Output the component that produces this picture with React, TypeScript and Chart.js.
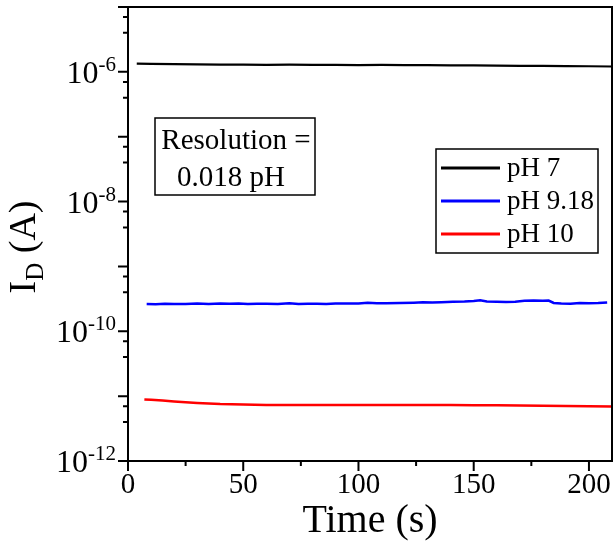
import React, { useEffect, useRef } from "react";
import { Chart, registerables } from "chart.js";

Chart.register(...registerables);

const FONT = "'Liberation Serif', 'Times New Roman', serif";

// pH 7 (black)
const timePH7 = [3.8, 10, 20, 30, 40, 50, 60, 70, 80, 90, 100, 110, 120, 130, 140, 150, 160, 170, 180, 190, 200, 210];
const currentPH7 = [1.34e-6, 1.33e-6, 1.32e-6, 1.3e-6, 1.29e-6, 1.29e-6, 1.28e-6, 1.29e-6, 1.28e-6, 1.28e-6, 1.27e-6, 1.28e-6, 1.27e-6, 1.27e-6, 1.26e-6, 1.26e-6, 1.25e-6, 1.24e-6, 1.24e-6, 1.23e-6, 1.22e-6, 1.21e-6];

// pH 9.18 (blue)
const timePH918 = [8.1, 12, 16, 20, 25, 30, 35, 40, 44, 48, 52, 56, 60, 65, 70, 74, 78, 82, 86, 90, 95, 100, 104, 108, 112, 118, 124, 128, 132, 136, 141, 146, 150, 152.8, 155.7, 160, 164, 168, 172, 176, 180, 182.5, 184.7, 188, 192, 196, 200, 204, 207.9];
const currentPH918 = [2.64e-10, 2.62e-10, 2.65e-10, 2.63e-10, 2.64e-10, 2.67e-10, 2.64e-10, 2.67e-10, 2.65e-10, 2.68e-10, 2.64e-10, 2.66e-10, 2.65e-10, 2.64e-10, 2.7e-10, 2.63e-10, 2.65e-10, 2.66e-10, 2.64e-10, 2.67e-10, 2.68e-10, 2.69e-10, 2.76e-10, 2.71e-10, 2.7e-10, 2.73e-10, 2.76e-10, 2.8e-10, 2.77e-10, 2.81e-10, 2.85e-10, 2.88e-10, 2.93e-10, 3.0e-10, 2.87e-10, 2.86e-10, 2.83e-10, 2.85e-10, 2.95e-10, 2.97e-10, 2.96e-10, 2.98e-10, 2.73e-10, 2.68e-10, 2.66e-10, 2.72e-10, 2.7e-10, 2.73e-10, 2.78e-10];

// pH 10 (red)
const timePH10 = [7.1, 10, 15, 20, 25, 30, 35, 40, 50, 60, 70, 80, 90, 100, 110, 120, 130, 140, 150, 160, 170, 180, 190, 200, 210];
const currentPH10 = [8.9e-12, 8.8e-12, 8.55e-12, 8.3e-12, 8.05e-12, 7.85e-12, 7.7e-12, 7.55e-12, 7.4e-12, 7.32e-12, 7.3e-12, 7.27e-12, 7.28e-12, 7.3e-12, 7.28e-12, 7.3e-12, 7.28e-12, 7.27e-12, 7.25e-12, 7.22e-12, 7.18e-12, 7.1e-12, 7.05e-12, 7.0e-12, 6.95e-12];

const seriesLabels = ["pH 7", "pH 9.18", "pH 10"];
const seriesColors = ["#000000", "#0000ff", "#ff0000"];

const xTickValues = [0, 50, 100, 150, 200];
const xMinorTicks = [25, 75, 125, 175];
const yMajorTicks = [1e-12, 1e-11, 1e-10, 1e-9, 1e-8, 1e-7, 1e-6, 1e-5];
const yMinorTicks = [4e-12, 7e-12, 4e-11, 7e-11, 4e-10, 7e-10, 4e-9, 7e-9, 4e-8, 7e-8, 4e-7, 7e-7, 4e-6, 7e-6];
const yLabelExponents = [-12, -10, -8, -6];

const xAxisTitle = "Time (s)";
const yAxisTitleMain = "I";
const yAxisTitleSub = "D";
const yAxisTitleUnit = " (A)";
const annotationLines = ["Resolution =", "0.018 pH"];

const toPoints = (xs: number[], ys: number[]) => xs.map((x, i) => ({ x, y: ys[i] }));

const decorPlugin = {
  id: "decor",
  afterDraw(chart: any) {
    const { ctx, chartArea: ca, scales } = chart;
    const xs = scales.x;
    const ys = scales.y;
    ctx.save();
    ctx.strokeStyle = "#000";
    ctx.fillStyle = "#000";
    // frame
    ctx.lineWidth = 2;
    ctx.strokeRect(ca.left, ca.top, ca.right - ca.left, ca.bottom - ca.top);
    // ticks
    ctx.beginPath();
    xTickValues.forEach((v) => {
      const px = xs.getPixelForValue(v);
      ctx.moveTo(px, ca.bottom);
      ctx.lineTo(px, ca.bottom + 10);
    });
    xMinorTicks.forEach((v) => {
      const px = xs.getPixelForValue(v);
      ctx.moveTo(px, ca.bottom);
      ctx.lineTo(px, ca.bottom + 5);
    });
    yMajorTicks.forEach((v) => {
      const py = ys.getPixelForValue(v);
      ctx.moveTo(ca.left, py);
      ctx.lineTo(ca.left - 10, py);
    });
    yMinorTicks.forEach((v) => {
      const py = ys.getPixelForValue(v);
      ctx.moveTo(ca.left, py);
      ctx.lineTo(ca.left - 5, py);
    });
    ctx.stroke();

    // y tick labels with superscript
    const baseFont = `32px ${FONT}`;
    const supFont = `21px ${FONT}`;
    ctx.textAlign = "left";
    ctx.textBaseline = "alphabetic";
    yLabelExponents.forEach((e) => {
      const py = ys.getPixelForValue(Math.pow(10, e));
      const sup = String(e);
      ctx.font = supFont;
      const sw = ctx.measureText(sup).width;
      ctx.font = baseFont;
      const bw = ctx.measureText("10").width;
      const right = ca.left - 12;
      ctx.fillText("10", right - sw - bw, py + 11);
      ctx.font = supFont;
      ctx.fillText(sup, right - sw, py - 1);
    });

    // y axis title
    const mainFont = `38px ${FONT}`;
    const subFont = `25px ${FONT}`;
    ctx.font = mainFont;
    const w1 = ctx.measureText(yAxisTitleMain).width;
    const w3 = ctx.measureText(yAxisTitleUnit).width;
    ctx.font = subFont;
    const w2 = ctx.measureText(yAxisTitleSub).width;
    const total = w1 + w2 + w3;
    ctx.save();
    ctx.translate(35, (ca.top + ca.bottom) / 2 + 13);
    ctx.rotate(-Math.PI / 2);
    let cx = -total / 2;
    ctx.font = mainFont;
    ctx.fillText(yAxisTitleMain, cx, 0);
    cx += w1;
    ctx.font = subFont;
    ctx.fillText(yAxisTitleSub, cx, 8);
    cx += w2;
    ctx.font = mainFont;
    ctx.fillText(yAxisTitleUnit, cx, 0);
    ctx.restore();

    // annotation box
    ctx.lineWidth = 1.5;
    const bx = ca.left + 27, by = ca.top + 111, bw2 = 160, bh = 77;
    ctx.strokeRect(bx, by, bw2, bh);
    ctx.font = `29px ${FONT}`;
    ctx.textAlign = "center";
    ctx.fillText(annotationLines[0], bx + bw2 / 2 + 1, by + 31);
    ctx.fillText(annotationLines[1], bx + bw2 / 2 - 4, by + 68);

    // legend box
    const lx = ca.left + 308, ly = ca.top + 142, lw = 162, lh = 104;
    ctx.strokeRect(lx, ly, lw, lh);
    ctx.font = `27px ${FONT}`;
    ctx.textAlign = "left";
    ctx.textBaseline = "middle";
    chart.data.datasets.forEach((ds: any, i: number) => {
      const yy = ly + 19 + i * 33;
      ctx.strokeStyle = ds.borderColor;
      ctx.lineWidth = 3;
      ctx.beginPath();
      ctx.moveTo(lx + 5, yy);
      ctx.lineTo(lx + 64, yy);
      ctx.stroke();
      ctx.fillStyle = "#000";
      ctx.fillText(ds.label, lx + 71, yy + 1);
    });
    ctx.restore();
  },
};

export default function App() {
  const canvasRef = useRef<HTMLCanvasElement | null>(null);

  useEffect(() => {
    const canvas = canvasRef.current;
    if (!canvas) return;
    const chart = new Chart(canvas, {
      type: "line",
      data: {
        datasets: [
          { label: seriesLabels[0], data: toPoints(timePH7, currentPH7), borderColor: seriesColors[0], borderWidth: 2.2 },
          { label: seriesLabels[1], data: toPoints(timePH918, currentPH918), borderColor: seriesColors[1], borderWidth: 2.5 },
          { label: seriesLabels[2], data: toPoints(timePH10, currentPH10), borderColor: seriesColors[2], borderWidth: 2.5 },
        ],
      },
      options: {
        responsive: false,
        animation: false,
        devicePixelRatio: 1,
        elements: { point: { radius: 0 }, line: { tension: 0 } },
        layout: { padding: { left: 128, top: 7, right: 3, bottom: 0 } },
        plugins: { legend: { display: false }, tooltip: { enabled: false } },
        scales: {
          x: {
            type: "linear",
            min: 0,
            max: 210,
            position: "bottom",
            border: { display: false },
            grid: { drawOnChartArea: false, drawTicks: true, tickLength: 10, color: "rgba(0,0,0,0)", tickColor: "rgba(0,0,0,0)" },
            afterBuildTicks: (s: any) => {
              s.ticks = xTickValues.map((v) => ({ value: v }));
            },
            ticks: {
              autoSkip: false,
              maxRotation: 0,
              includeBounds: false,
              padding: 0,
              color: "#000",
              font: { family: FONT, size: 29, lineHeight: 1 },
            },
            title: {
              display: true,
              text: xAxisTitle,
              color: "#000",
              font: { family: FONT, size: 40, lineHeight: 1 },
              padding: { top: 1, bottom: 11 },
            },
          },
          y: {
            type: "logarithmic",
            min: 1e-12,
            max: 1e-5,
            display: false,
          },
        },
      },
      plugins: [decorPlugin],
    } as any);
    return () => chart.destroy();
  }, []);

  return (
    <div style={{ position: "absolute", left: 0, top: 0, width: 615, height: 552 }}>
      <canvas ref={canvasRef} width={615} height={552} style={{ display: "block", width: 615, height: 552 }} />
    </div>
  );
}
